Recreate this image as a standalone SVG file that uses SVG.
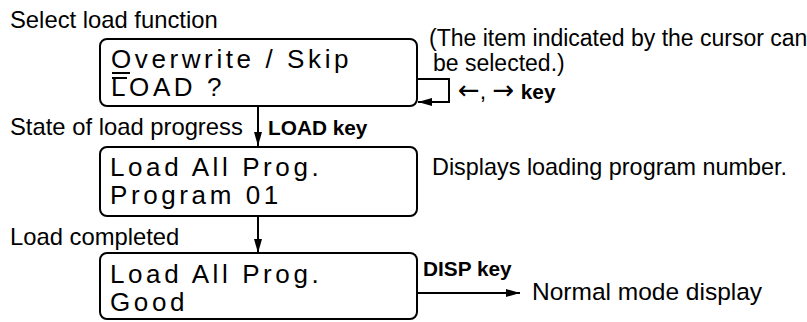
<svg xmlns="http://www.w3.org/2000/svg" width="807" height="322" viewBox="0 0 807 322">
<defs>
<style>
.lbl{font-family:"Liberation Sans",Arial,sans-serif;font-size:23.8px;fill:#000}
.note{font-family:"Liberation Sans",Arial,sans-serif;font-size:23px;fill:#000}
.key{font-family:"Liberation Sans",Arial,sans-serif;font-size:20.8px;font-weight:bold;fill:#000}
.lcd{font-family:"Liberation Sans",Arial,sans-serif;font-size:26px;letter-spacing:3.6px;fill:#000}
.arr{font-family:"DejaVu Sans",sans-serif;font-size:26px}
.box{fill:#fff;stroke:#000;stroke-width:2}
.ln{fill:none;stroke:#000;stroke-width:2}
</style>
<marker id="ah" viewBox="0 0 14 8" refX="14" refY="4" markerWidth="14" markerHeight="8" markerUnits="userSpaceOnUse" orient="auto">
<path d="M0,0 L14,4 L0,8 Z" fill="#000"/>
</marker>
</defs>
<rect width="807" height="322" fill="#fff"/>
<text class="lbl" x="10" y="28">Select load function</text>
<text class="lbl" x="10" y="135">State of load progress</text>
<text class="lbl" x="10" y="245">Load completed</text>
<g id="connectors">
<line class="ln" x1="258" y1="107" x2="258" y2="146" marker-end="url(#ah)"/>
<line class="ln" x1="258" y1="216" x2="258" y2="253" marker-end="url(#ah)"/>
<polyline class="ln" points="417,79 449,79 449,102 418,102" marker-end="url(#ah)"/>
<line class="ln" x1="417" y1="293" x2="520" y2="293" marker-end="url(#ah)"/>
<text class="key" x="268" y="135">LOAD key</text>
<text class="note" x="458" y="99"><tspan class="arr">←</tspan>, <tspan class="arr">→</tspan> <tspan style="font-weight:bold;font-size:20.8px">key</tspan></text>
<text class="key" x="423" y="276">DISP key</text>
</g>
<g id="node1">
<rect class="box" x="100" y="39" width="317" height="67" rx="7"/>
<text class="lcd" x="111" y="68">Overwrite / Skip</text>
<text class="lcd" x="111" y="96">LOAD ?</text>
<line class="ln" x1="112" y1="73" x2="130" y2="73"/>
<line class="ln" x1="112" y1="78" x2="127" y2="78"/>
</g>
<g id="note1">
<text class="note" x="429" y="46">(The item indicated by the cursor can</text>
<text class="note" x="433" y="71">be selected.)</text>
</g>
<g id="node2">
<rect class="box" x="100" y="147" width="317" height="69" rx="7"/>
<text class="lcd" x="110" y="176">Load All Prog.</text>
<text class="lcd" x="110" y="204">Program 01</text>
</g>
<text class="note" x="432" y="175" style="font-size:23.4px">Displays loading program number.</text>
<g id="node3">
<rect class="box" x="100" y="253" width="317" height="66" rx="7"/>
<text class="lcd" x="110" y="283">Load All Prog.</text>
<text class="lcd" x="110" y="311">Good</text>
</g>
<g id="node4">
<text class="note" x="532" y="300" style="font-size:24.5px">Normal mode display</text>
</g>
</svg>
